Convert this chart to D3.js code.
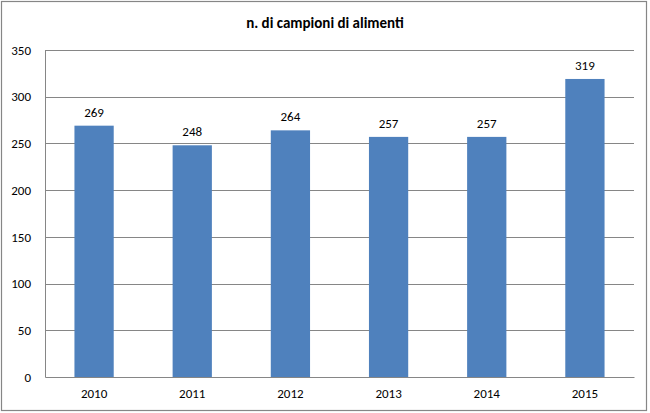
<!DOCTYPE html>
<html>
<head>
<meta charset="utf-8">
<script src="https://cdn.jsdelivr.net/npm/d3@7"></script>
<style>
  body { margin: 0; background: #fff; }
  text { font-family: Carlito, Lato, "Open Sans", sans-serif; fill: #000; }
</style>
</head>
<body>
<div id="chart"></div>
<script>
// data
var years = ["2010", "2011", "2012", "2013", "2014", "2015"];
var counts = [269, 248, 264, 257, 257, 319];
var yTicks = [0, 50, 100, 150, 200, 250, 300, 350];
var title = "n. di campioni di alimenti";

var W = 650, H = 413;
var margin = { top: 50, right: 16, bottom: 36, left: 45 },
    width = W - margin.left - margin.right,
    height = H - margin.top - margin.bottom;

var root = d3.select("#chart")
    .append("svg")
    .attr("width", W)
    .attr("height", H);

// outer chart border
root.append("rect")
    .attr("x", 1.5).attr("y", 1.5)
    .attr("width", W - 5).attr("height", H - 4)
    .attr("fill", "#fff")
    .attr("stroke", "#868686")
    .attr("stroke-width", 1.2);

root.append("text")
    .attr("x", W / 2)
    .attr("y", 28)
    .attr("text-anchor", "middle")
    .style("font-size", "15px")
    .style("font-weight", "bold")
    .text(title);

var svg = root.append("g")
    .attr("transform", "translate(" + margin.left + "," + margin.top + ")");

var x = d3.scaleBand()
    .domain(years)
    .range([0, width])
    .paddingInner(0.6)
    .paddingOuter(0.3);

var y = d3.scaleLinear()
    .domain([0, 350])
    .range([height, 0]);

// gridlines
svg.selectAll(".grid")
    .data(yTicks.filter(function (d) { return d > 0; }))
    .enter()
    .append("line")
    .attr("x1", 0).attr("x2", width)
    .attr("y1", function (d) { return Math.round(y(d)) + 0.5; })
    .attr("y2", function (d) { return Math.round(y(d)) + 0.5; })
    .attr("stroke", "#868686")
    .attr("stroke-width", 1);

// bars
svg.selectAll(".bar")
    .data(counts)
    .enter()
    .append("rect")
    .attr("x", function (d, i) { return x(years[i]); })
    .attr("y", function (d) { return y(d); })
    .attr("width", x.bandwidth())
    .attr("height", function (d) { return height - y(d); })
    .attr("fill", "#4F81BD");

// value labels
svg.selectAll(".lbl")
    .data(counts)
    .enter()
    .append("text")
    .attr("x", function (d, i) { return x(years[i]) + x.bandwidth() / 2; })
    .attr("y", function (d) { return y(d) - 9; })
    .attr("text-anchor", "middle")
    .style("font-size", "13px")
    .text(function (d) { return d; });

// axes
var yAxis = svg.append("g")
    .call(d3.axisLeft(y).tickValues(yTicks).tickSize(0).tickPadding(14));
yAxis.select(".domain").attr("stroke", "#868686");
yAxis.selectAll("text").style("font-size", "13px");

var xAxis = svg.append("g")
    .attr("transform", "translate(0," + height + ")")
    .call(d3.axisBottom(x).tickSize(0).tickPadding(12));
xAxis.select(".domain").attr("stroke", "#868686");
xAxis.selectAll("text").style("font-size", "13px");
</script>
</body>
</html>
